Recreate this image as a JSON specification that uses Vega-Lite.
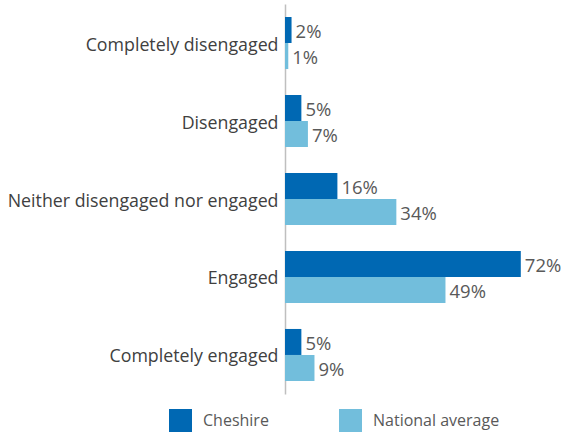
{
  "$schema": "https://vega.github.io/schema/vega-lite/v6.json",
  "width": 262,
  "height": 390,
  "autosize": {"type": "none"},
  "padding": {"left": 285, "top": 4, "right": 16, "bottom": 38},
  "config": {"view": {"stroke": null}, "font": "Open Sans"},
  "data": {
    "values": [
      {"category": "Completely disengaged", "series": "Cheshire", "value": 0.02},
      {"category": "Completely disengaged", "series": "National average", "value": 0.01},
      {"category": "Disengaged", "series": "Cheshire", "value": 0.05},
      {"category": "Disengaged", "series": "National average", "value": 0.07},
      {"category": "Neither disengaged nor engaged", "series": "Cheshire", "value": 0.16},
      {"category": "Neither disengaged nor engaged", "series": "National average", "value": 0.34},
      {"category": "Engaged", "series": "Cheshire", "value": 0.72},
      {"category": "Engaged", "series": "National average", "value": 0.49},
      {"category": "Completely engaged", "series": "Cheshire", "value": 0.05},
      {"category": "Completely engaged", "series": "National average", "value": 0.09}
    ]
  },
  "encoding": {
    "y": {
      "field": "category",
      "type": "nominal",
      "sort": ["Completely disengaged", "Disengaged", "Neither disengaged nor engaged", "Engaged", "Completely engaged"],
      "scale": {"paddingInner": 0.333, "paddingOuter": 0.167},
      "axis": {
        "title": null,
        "ticks": false,
        "domainColor": "#BFBFBF",
        "domainWidth": 1.5,
        "labelFontSize": 17.8,
        "labelColor": "#404040",
        "labelPadding": 7,
        "labelOffset": 2.5,
        "labelLimit": 400
      }
    },
    "yOffset": {"field": "series", "type": "nominal", "sort": ["Cheshire", "National average"]},
    "x": {"field": "value", "type": "quantitative", "scale": {"domain": [0, 0.8]}, "axis": null}
  },
  "layer": [
    {
      "mark": {"type": "bar"},
      "encoding": {
        "color": {
          "field": "series",
          "type": "nominal",
          "scale": {"domain": ["Cheshire", "National average"], "range": ["#0068B3", "#72BEDC"]},
          "legend": {
            "title": null,
            "orient": "none",
            "legendX": -116,
            "legendY": 405,
            "direction": "horizontal",
            "symbolType": "square",
            "symbolSize": 529,
            "symbolStrokeWidth": 0,
            "labelFontSize": 16,
            "labelColor": "#595959",
            "labelOffset": 11,
            "columnPadding": 70
          }
        }
      }
    },
    {
      "mark": {"type": "text", "align": "left", "baseline": "middle", "dx": 4, "dy": 2, "fontSize": 18.5, "color": "#595959"},
      "encoding": {"text": {"field": "value", "type": "quantitative", "format": ".0%"}}
    }
  ]
}
